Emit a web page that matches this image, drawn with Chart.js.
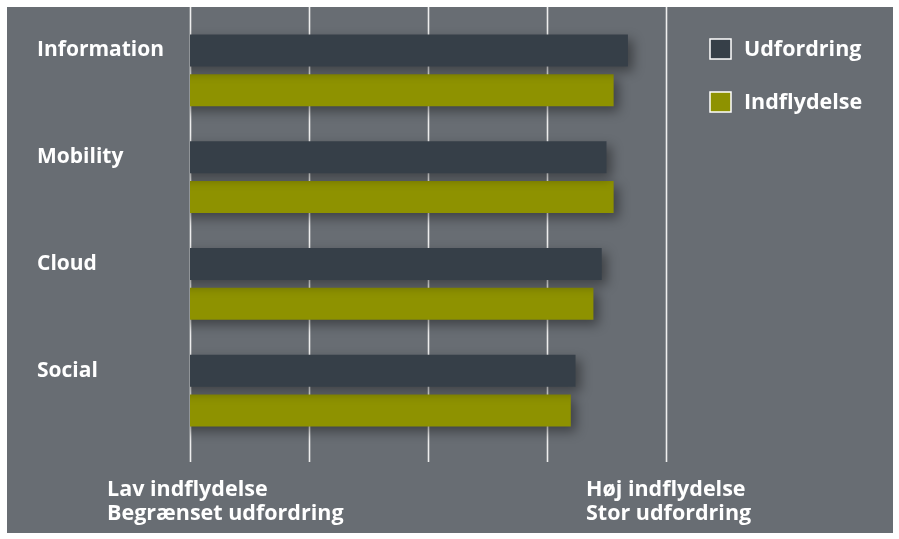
<!DOCTYPE html>
<html>
<head>
<meta charset="utf-8">
<script src="https://cdn.jsdelivr.net/npm/chart.js@4.4.1/dist/chart.umd.min.js"></script>
<style>
    html, body { margin: 0; padding: 0; background: #ffffff; }
    .frame { position: absolute; left: 7px; top: 7px; width: 886px; height: 526px; background: #686d73; }
    canvas { display: block; }
</style>
</head>
<body>
<div class="frame"><canvas id="chart" width="886" height="526"></canvas></div>
<script>
// Data (scale 1..5)
const categories = ['Information', 'Mobility', 'Cloud', 'Social'];
const seriesNames = ['Udfordring', 'Indflydelse'];
const udfordring = [4.68, 4.50, 4.46, 4.24];
const indflydelse = [4.56, 4.56, 4.39, 4.20];
const lowLabel = ['Lav indflydelse', 'Begrænset udfordring'];
const highLabel = ['Høj indflydelse', 'Stor udfordring'];

const FONT = '"Open Sans", sans-serif';
const colors = ['#363f48', '#8e9200'];

// Grid lines run past the plot area, from the top edge down to the labels
const gridPlugin = {
    id: 'fullGrid',
    beforeDatasetsDraw(chart) {
        const ctx = chart.ctx;
        const x = chart.scales.x;
        ctx.save();
        ctx.strokeStyle = '#eeeeee';
        ctx.lineWidth = 1.6;
        x.ticks.forEach(t => {
            const px = Math.round(x.getPixelForValue(t.value)) + 0.5;
            ctx.beginPath();
            ctx.moveTo(px, 0);
            ctx.lineTo(px, 455);
            ctx.stroke();
        });
        ctx.restore();
    }
};

// Soft drop shadow under the bars
const shadowPlugin = {
    id: 'barShadow',
    beforeDatasetDraw(chart) {
        const ctx = chart.ctx;
        ctx.save();
        ctx.shadowColor = 'rgba(0, 0, 0, 0.4)';
        ctx.shadowBlur = 12;
        ctx.shadowOffsetX = 5;
        ctx.shadowOffsetY = 5;
    },
    afterDatasetDraw(chart) {
        chart.ctx.restore();
    }
};

// Legend boxes on the right and end labels under the axis
const textPlugin = {
    id: 'texts',
    afterDraw(chart) {
        const ctx = chart.ctx;
        const x = chart.scales.x;
        ctx.save();
        ctx.font = '700 21.5px ' + FONT;
        ctx.fillStyle = '#ffffff';
        ctx.textBaseline = 'middle';
        ctx.textAlign = 'left';

        chart.data.datasets.forEach((ds, i) => {
            const top = 32 + i * 53;
            ctx.fillStyle = ds.backgroundColor;
            ctx.fillRect(703, top, 21, 20);
            ctx.strokeStyle = '#ffffff';
            ctx.lineWidth = 1.5;
            ctx.strokeRect(703, top, 21, 20);
            ctx.fillStyle = '#ffffff';
            ctx.fillText(ds.label, 737, top + 11);
        });

        const left = x.getPixelForValue(x.min);
        const right = x.getPixelForValue(x.max);
        lowLabel.forEach((s, i) => ctx.fillText(s, left - 83, 483 + i * 24));
        highLabel.forEach((s, i) => ctx.fillText(s, right - 80, 483 + i * 24));
        ctx.restore();
    }
};

new Chart(document.getElementById('chart'), {
    type: 'bar',
    data: {
        labels: categories,
        datasets: [
            { label: seriesNames[0], data: udfordring, backgroundColor: colors[0] },
            { label: seriesNames[1], data: indflydelse, backgroundColor: colors[1] }
        ]
    },
    options: {
        indexAxis: 'y',
        responsive: false,
        animation: false,
        layout: { padding: { left: 30, right: 227, top: 10, bottom: 89 } },
        datasets: {
            bar: { categoryPercentage: 0.749, barPercentage: 0.8, borderWidth: 0 }
        },
        plugins: {
            legend: { display: false },
            tooltip: { enabled: false }
        },
        scales: {
            x: {
                display: false,
                min: 1,
                max: 5,
                ticks: { stepSize: 1 }
            },
            y: {
                grid: { display: false },
                border: { display: false },
                afterFit(scale) {
                    scale.width = 153;
                    scale.paddingTop = 0;
                    scale.paddingBottom = 0;
                },
                ticks: {
                    crossAlign: 'far',
                    labelOffset: -20,
                    color: '#ffffff',
                    font: { family: FONT, size: 21, weight: '700' }
                }
            }
        }
    },
    plugins: [gridPlugin, shadowPlugin, textPlugin]
});
</script>
</body>
</html>
